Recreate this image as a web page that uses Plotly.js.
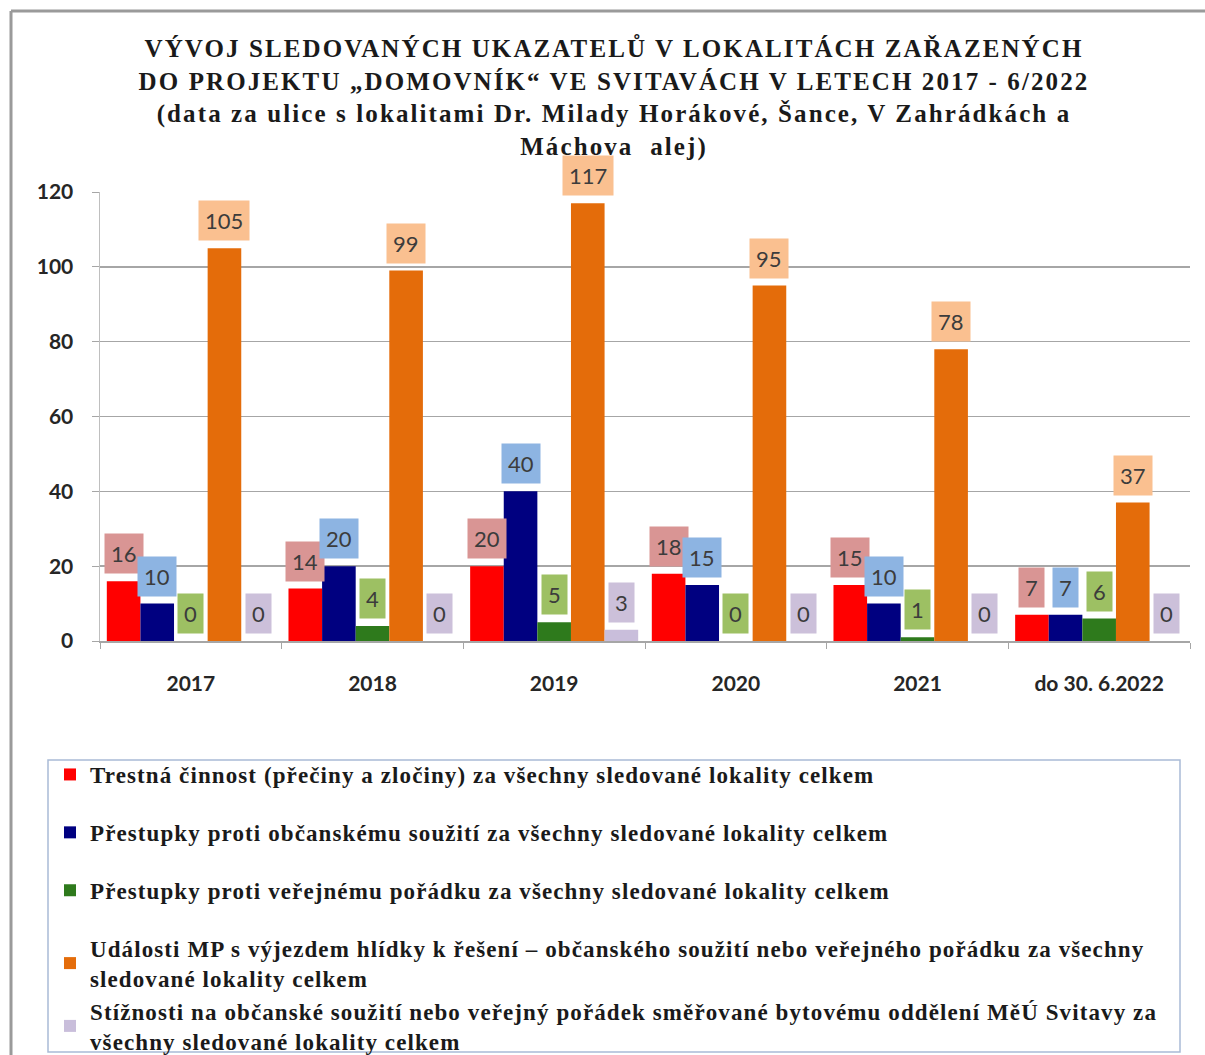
<!DOCTYPE html>
<html>
<head>
<meta charset="utf-8">
<script src="https://cdn.plot.ly/plotly-3.0.1.min.js"></script>
<style>
html,body{margin:0;padding:0;background:#fff;}
#chart{width:1205px;height:1055px;}
#chart .legendtext{letter-spacing:1.1px;}
#chart .legend .scrollbox{clip-path:none !important;}
#chart .gtitle{letter-spacing:2.1px;}
</style>
</head>
<body>
<div id="chart"></div>
<script>
// ---- data ----
const categories = ["2017", "2018", "2019", "2020", "2021", "do 30. 6.2022"];
const seriesNames = [
  "Trestná činnost (přečiny a zločiny) za všechny sledované lokality celkem",
  "Přestupky proti občanskému soužití za všechny sledované lokality celkem",
  "Přestupky proti veřejnému pořádku za všechny sledované lokality celkem",
  "Události MP s výjezdem hlídky k řešení – občanského soužití nebo veřejného pořádku za všechny<br>sledované lokality celkem",
  "Stížnosti na občanské soužití nebo veřejný pořádek směřované bytovému oddělení MěÚ Svitavy za<br>všechny sledované lokality celkem"
];
const trestnaCinnost = [16, 14, 20, 18, 15, 7];
const prestupkySouziti = [10, 20, 40, 15, 10, 7];
const prestupkyPoradek = [0, 4, 5, 0, 1, 6];
const udalostiMP = [105, 99, 117, 95, 78, 37];
const stiznosti = [0, 0, 3, 0, 0, 0];
const yTicks = [0, 20, 40, 60, 80, 100, 120];

const titleLines = [
  "VÝVOJ SLEDOVANÝCH UKAZATELŮ V LOKALITÁCH ZAŘAZENÝCH",
  "DO PROJEKTU „DOMOVNÍK“ VE SVITAVÁCH V LETECH 2017 - 6/2022",
  "(data za ulice s lokalitami Dr. Milady Horákové, Šance, V Zahrádkách a",
  "Máchova  alej)"
];

// ---- styles ----
const allSeries = [trestnaCinnost, prestupkySouziti, prestupkyPoradek, udalostiMP, stiznosti];
const barColors = ["#FF0000", "#000080", "#2E7A1C", "#E46C0A", "#C9BEDB"];
const labelBg = ["#D99594", "#8DB4E2", "#9DC063", "#FAC090", "#CCC0DA"];
const groups = ["g1", "g2", "g3", "g4", "g4"];

const bargap = 0.075;
const nSeries = allSeries.length;
const barW = (1 - bargap) / nSeries;

const traces = allSeries.map((vals, i) => ({
  type: "bar",
  name: seriesNames[i],
  x: categories,
  y: vals,
  marker: {color: barColors[i]},
  legendgroup: groups[i],
  hoverinfo: "y"
}));

const annotations = [];
allSeries.forEach((vals, i) => {
  vals.forEach((v, j) => {
    annotations.push({
      x: j + (i - (nSeries - 1) / 2) * barW,
      y: v,
      xref: "x", yref: "y",
      text: String(v),
      showarrow: false,
      yanchor: "bottom",
      xanchor: "center",
      yshift: 7,
      bgcolor: labelBg[i],
      borderpad: 6,
      font: {family: "Lato, 'Open Sans', sans-serif", size: 22, color: "#3c3c3c"}
    });
  });
});

const W = 1205, H = 1055;
const mL = 100, mR = 15, mT = 192, mB = 414;
const pw = W - mL - mR, ph = H - mT - mB;
const px = X => (X - mL) / pw;
const py = Y => (H - mB - Y) / ph;

const shapes = [
  {type: "line", xref: "paper", yref: "paper", x0: px(11), x1: px(11), y0: py(11), y1: py(1060),
   line: {color: "#9a9a9a", width: 3}},
  {type: "line", xref: "paper", yref: "paper", x0: px(11), x1: px(1210), y0: py(11), y1: py(11),
   line: {color: "#9a9a9a", width: 3}},
  {type: "rect", xref: "paper", yref: "paper", x0: px(48), x1: px(1180), y0: py(760), y1: py(1052),
   line: {color: "#a9bbd6", width: 1.5}, fillcolor: "rgba(0,0,0,0)"}
];

const layout = {
  width: W, height: H,
  margin: {l: mL, r: mR, t: mT, b: mB, autoexpand: false},
  paper_bgcolor: "#ffffff",
  plot_bgcolor: "#ffffff",
  title: {
    text: "<b>" + titleLines.join("<br>") + "</b>",
    x: 614 / W, xref: "container", xanchor: "center",
    y: 1 - 57 / H, yref: "container", yanchor: "top",
    font: {family: "'Liberation Serif', 'Times New Roman', serif", size: 25, color: "#1a1a1a"}
  },
  barmode: "group",
  bargap: bargap,
  bargroupgap: 0,
  xaxis: {
    type: "category",
    showline: true, linecolor: "#a6a6a6", linewidth: 1.5,
    ticks: "outside", tickson: "boundaries", ticklen: 6, tickcolor: "#a6a6a6",
    showgrid: false,
    tickfont: {family: "Lato, 'Open Sans', sans-serif", size: 21, color: "#262626", weight: "bold"},
    ticklabelstandoff: 23
  },
  yaxis: {
    range: [0, 120],
    tickvals: yTicks,
    showline: true, linecolor: "#bfbfbf", linewidth: 1.5,
    ticks: "outside", ticklen: 7, tickcolor: "#a6a6a6",
    showgrid: true, gridcolor: "#a6a6a6", gridwidth: 1.5,
    zeroline: false,
    tickfont: {family: "Lato, 'Open Sans', sans-serif", size: 21, color: "#262626", weight: "bold"},
    ticklabelstandoff: 14
  },
  legend: {
    x: px(50), y: py(753), xanchor: "left", yanchor: "top",
    borderwidth: 0, bgcolor: "rgba(0,0,0,0)",
    traceorder: "grouped",
    tracegroupgap: 25,
    font: {family: "'Liberation Serif', 'Times New Roman', serif", size: 23, color: "#1a1a1a", weight: "bold"}
  },
  showlegend: true,
  annotations: annotations,
  shapes: shapes
};

Plotly.newPlot("chart", traces, layout, {displayModeBar: false, staticPlot: true});
</script>
</body>
</html>
